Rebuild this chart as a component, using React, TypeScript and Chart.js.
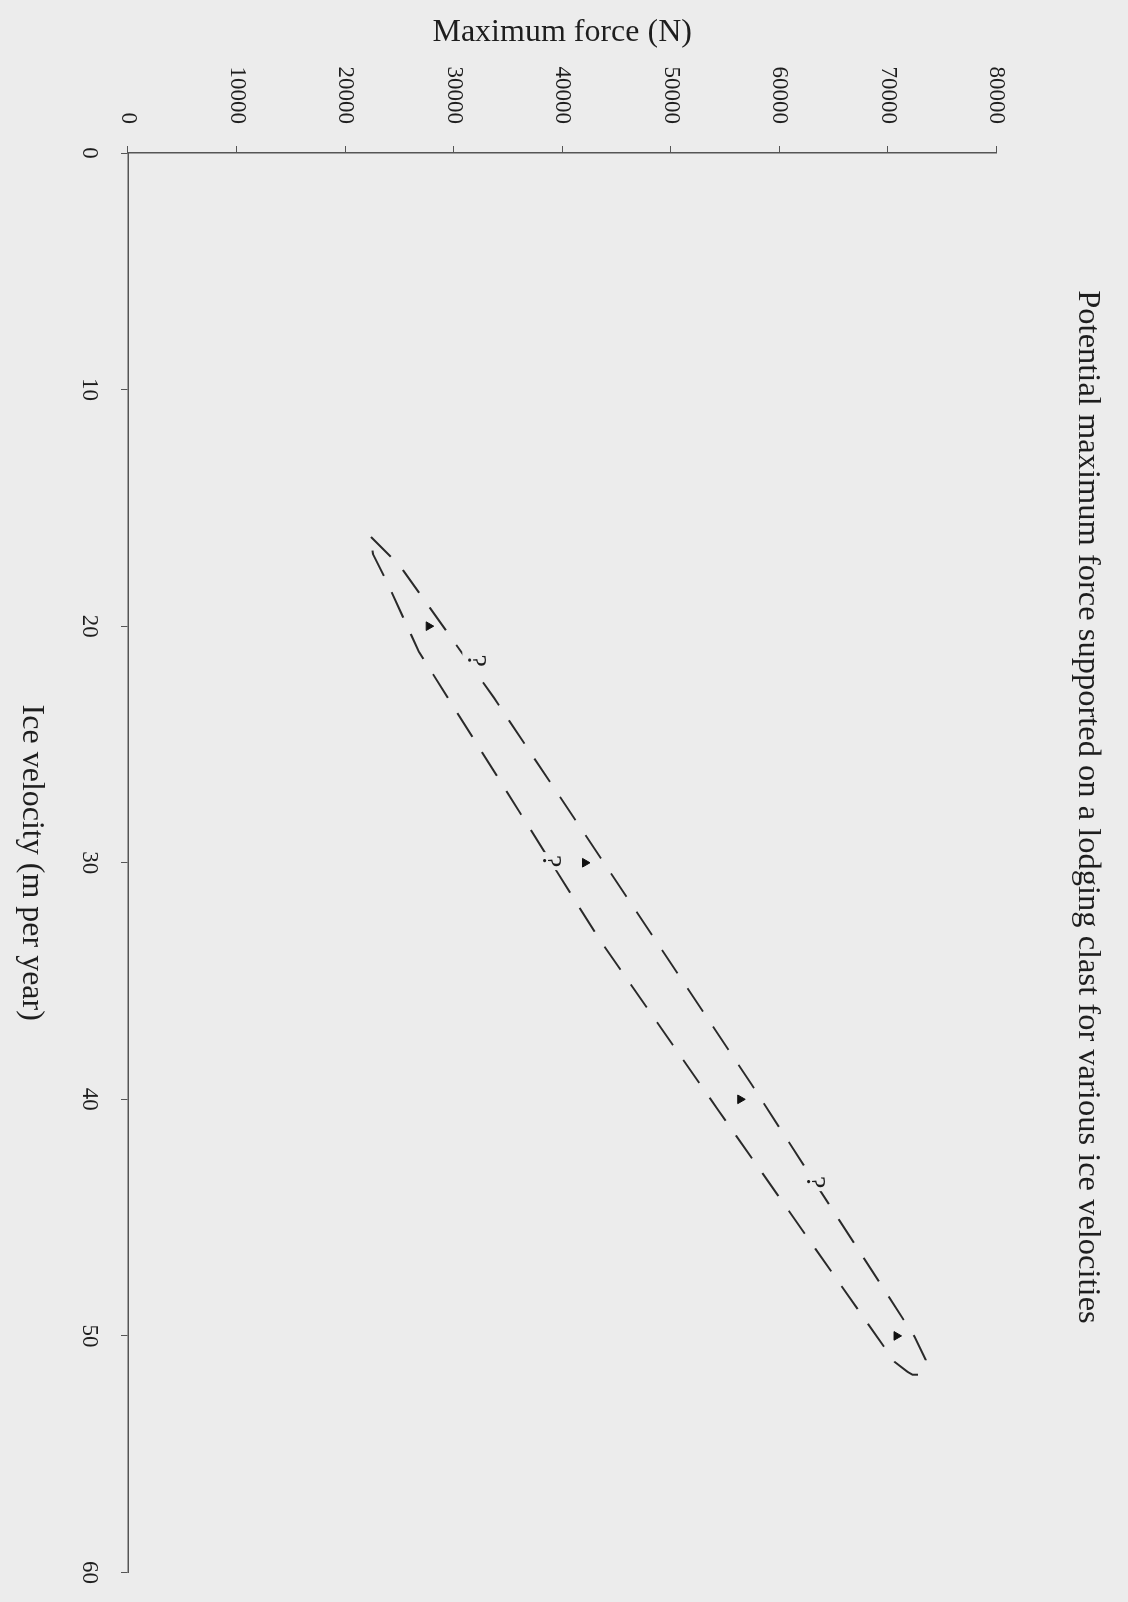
import React, { useEffect, useRef } from "react";
import { Chart, registerables } from "chart.js";

Chart.register(...registerables);

// ---- data ----
const velocityTicks = [0, 10, 20, 30, 40, 50, 60];
const forceTicks = [0, 10000, 20000, 30000, 40000, 50000, 60000, 70000, 80000];

const pointVelocity = [20, 30, 40, 50];
const pointForce = [27700, 42100, 56400, 70800];

// hand-drawn dashed envelope around the points (closed loop)
const envelopeVelocity = [16.23, 17.45, 23.02, 39.38, 50.04, 51.01, 51.39, 51.64, 51.64, 51.52, 51.1, 40.43, 33.26, 21.08, 18.04, 16.95, 16.23];
const envelopeForce = [22380, 25050, 33700, 57460, 72470, 73480, 73390, 72930, 72280, 71820, 70630, 54330, 43460, 26800, 23760, 22560, 22380];

// "?" annotations on the envelope
const questionVelocity = [21.46, 29.93, 43.5];
const questionForce = [32000, 38900, 63200];
const questionText = ["?", "?", "?"];

const titleText = "Potential maximum force supported on a lodging clast for various ice velocities";
const xTitle = "Ice velocity (m per year)";
const yTitle = "Maximum force (N)";

const BG = "#ececec";
const INK = "#1e1e1e";
const AXIS = "#555555";
const SERIF = '"Liberation Serif", "Times New Roman", serif';

const questionPlugin = {
  id: "questionMarks",
  afterLayout(chart: any) {
    const tb = chart.titleBlock;
    if (tb) {
      tb.left = 12;
      tb.right = chart.width;
      tb.width = tb.right - tb.left;
    }
  },
  afterDatasetsDraw(chart: any) {
    const { ctx, scales } = chart;
    const xs = scales.x;
    const ys = scales.y;
    ctx.save();
    ctx.font = `28px ${SERIF}`;
    ctx.textAlign = "center";
    ctx.textBaseline = "middle";
    questionVelocity.forEach((v, i) => {
      const px = xs.getPixelForValue(v);
      const py = ys.getPixelForValue(questionForce[i]);
      ctx.fillStyle = BG;
      ctx.fillRect(px - 9, py - 13, 18, 26);
      ctx.fillStyle = INK;
      ctx.fillText(questionText[i], px, py);
    });
    ctx.restore();
  },
};

export default function App() {
  const ref = useRef<HTMLCanvasElement>(null);

  useEffect(() => {
    const canvas = ref.current;
    if (!canvas) return;
    const chart = new Chart(canvas, {
      type: "scatter",
      data: {
        datasets: [
          {
            label: "envelope",
            data: envelopeVelocity.map((v, i) => ({ x: v, y: envelopeForce[i] })),
            showLine: true,
            borderColor: "#2a2a2a",
            borderWidth: 2,
            borderDash: [28, 18],
            pointRadius: 0,
            fill: false,
            tension: 0,
          },
          {
            label: "points",
            data: pointVelocity.map((v, i) => ({ x: v, y: pointForce[i] })),
            showLine: false,
            pointStyle: "triangle",
            pointRadius: 5,
            backgroundColor: "#111111",
            borderColor: "#111111",
            borderWidth: 1,
          },
        ],
      },
      options: {
        responsive: false,
        animation: false,
        devicePixelRatio: 1,
        layout: { padding: { left: 0, right: 26, top: 0, bottom: 0 } },
        plugins: {
          legend: { display: false },
          tooltip: { enabled: false },
          title: {
            display: true,
            text: titleText,
            color: INK,
            font: { family: SERIF, size: 32.5, weight: "normal" },
            padding: { top: 21, bottom: 71.6 },
          },
        },
        scales: {
          x: {
            type: "linear",
            min: 0,
            max: 60,
            afterBuildTicks: (scale: any) => {
              scale.ticks = velocityTicks.map((v) => ({ value: v }));
            },
            afterFit: (scale: any) => {
              scale.height = 128;
            },
            ticks: {
              color: INK,
              font: { family: SERIF, size: 23 },
              padding: 18,
              maxRotation: 0,
              minRotation: 0,
              callback: (v: any) => String(v),
            },
            grid: {
              display: true,
              drawOnChartArea: false,
              drawTicks: true,
              tickLength: 7,
              color: AXIS,
            },
            border: { display: true, color: AXIS, width: 1.5 },
            title: {
              display: true,
              text: xTitle,
              color: INK,
              font: { family: SERIF, size: 32 },
              padding: { top: 0, bottom: 12 },
            },
          },
          y: {
            type: "linear",
            min: 0,
            max: 80000,
            afterBuildTicks: (scale: any) => {
              scale.ticks = forceTicks.map((v) => ({ value: v }));
            },
            afterFit: (scale: any) => {
              scale.width = 153;
            },
            ticks: {
              color: INK,
              font: { family: SERIF, size: 23 },
              padding: 22,
              callback: (v: any) => String(v),
            },
            grid: {
              display: true,
              drawOnChartArea: false,
              drawTicks: true,
              tickLength: 7,
              color: AXIS,
            },
            border: { display: true, color: AXIS, width: 1.5 },
            title: {
              display: true,
              text: yTitle,
              color: INK,
              font: { family: SERIF, size: 32 },
              padding: { top: 13, bottom: 0 },
            },
          },
        },
      },
      plugins: [questionPlugin],
    } as any);
    return () => chart.destroy();
  }, []);

  return (
    <div
      style={{
        position: "absolute",
        left: 0,
        top: 0,
        width: 1128,
        height: 1602,
        overflow: "hidden",
        background: BG,
      }}
    >
      <div
        style={{
          position: "absolute",
          left: 0,
          top: 0,
          width: 1602,
          height: 1128,
          transformOrigin: "0 0",
          transform: "translate(1128px, 0px) rotate(90deg)",
        }}
      >
        <canvas ref={ref} width={1602} height={1128} style={{ display: "block", width: 1602, height: 1128 }} />
      </div>
    </div>
  );
}
